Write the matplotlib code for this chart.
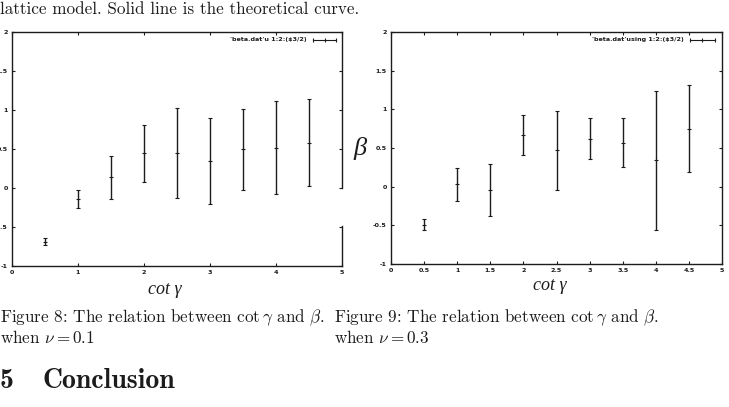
import numpy as np
import matplotlib
matplotlib.use('Agg')
import matplotlib.pyplot as plt

plt.rcParams['mathtext.fontset'] = 'cm'

# Figure 8 (nu = 0.1)
cot8 = [0.5, 1.0, 1.5, 2.0, 2.5, 3.0, 3.5, 4.0, 4.5]
beta8 = [-0.69, -0.14, 0.135, 0.445, 0.45, 0.345, 0.495, 0.515, 0.58]
err8 = [0.045, 0.12, 0.275, 0.365, 0.575, 0.555, 0.515, 0.595, 0.56]

# Figure 9 (nu = 0.3)
cot9 = [0.5, 1.0, 1.5, 2.0, 2.5, 3.0, 3.5, 4.0, 4.5]
beta9 = [-0.49, 0.03, -0.04, 0.67, 0.47, 0.62, 0.57, 0.34, 0.75]
err9 = [0.075, 0.21, 0.335, 0.26, 0.51, 0.265, 0.32, 0.895, 0.56]

yticks = [-1, -0.5, 0, 0.5, 1, 1.5, 2]
ytick_labels = ['-1', '-0.5', '0', '0.5', '1', '1.5', '2']
xticks8 = [0, 1, 2, 3, 4, 5]
xtick_labels8 = ['0', '1', '2', '3', '4', '5']
xticks9 = [0, 0.5, 1, 1.5, 2, 2.5, 3, 3.5, 4, 4.5, 5]
xtick_labels9 = ['0', '0.5', '1', '1.5', '2', '2.5', '3', '3.5', '4', '4.5', '5']

legend8 = "'beta.dat'u 1:2:($3/2)"
legend9 = "'beta.dat'using 1:2:($3/2)"

INK = '#1c1c1c'
W, H = 729, 407
CAP = 12.3


def draw_panel(ax, x, y, err, xticks, xlabels, legend, lx, sx):
    ax.errorbar(x, y, yerr=err, fmt='_', color=INK, ms=3, mew=0.8,
                elinewidth=1.0, capsize=1.6, capthick=1.0)
    ax.set_xlim(0, 5)
    ax.set_ylim(-1, 2)
    ax.set_xticks(xticks)
    ax.set_xticklabels(xlabels)
    ax.set_yticks(yticks)
    ax.set_yticklabels(ytick_labels)
    ax.tick_params(direction='in', length=2.5, width=0.8, top=True, right=True,
                   labelsize=4.6, colors=INK, pad=3)
    for lab in ax.get_xticklabels() + ax.get_yticklabels():
        lab.set_fontweight('bold')
    for sp in ax.spines.values():
        sp.set_linewidth(1.0)
        sp.set_color(INK)
    # gnuplot style key
    ax.text(lx, 0.966, legend, transform=ax.transAxes, ha='right', va='center',
            fontsize=4.6, fontweight='bold', color=INK, parse_math=False)
    ax.plot(sx, [0.966, 0.966], transform=ax.transAxes, color=INK, lw=0.8)
    ax.plot([sx[0], (sx[0] + sx[1]) / 2, sx[1]], [0.966] * 3, transform=ax.transAxes,
            ls='none', marker='|', ms=3, mew=0.8, color=INK)


fig = plt.figure(figsize=(W / 100, H / 100), dpi=100)

ax1 = fig.add_axes([12 / W, 141 / H, 330 / W, 234 / H])
draw_panel(ax1, cot8, beta8, err8, xticks8, xtick_labels8, legend8, 0.894, [0.912, 0.982])
# broken right border in the scan
ax1.spines['right'].set_visible(False)
ax1.plot([1, 1], [1, 0.335], transform=ax1.transAxes, color=INK, lw=1.0, clip_on=False)
ax1.plot([1, 1], [0.172, 0], transform=ax1.transAxes, color=INK, lw=1.0, clip_on=False)

ax2 = fig.add_axes([391 / W, 143 / H, 331 / W, 232 / H])
draw_panel(ax2, cot9, beta9, err9, xticks9, xtick_labels9, legend9, 0.885, [0.903, 0.979])

# handwritten annotations
fig.text(165 / W, 1 - 290 / H, 'cot γ', ha='center', va='center', fontsize=13,
         family='Liberation Serif', style='italic', color=INK)
fig.text(550 / W, 1 - 286 / H, 'cot γ', ha='center', va='center', fontsize=13,
         family='Liberation Serif', style='italic', color=INK)
fig.text(360 / W, 1 - 148 / H, 'β', ha='center', va='center', fontsize=19,
         family='Liberation Serif', style='italic', color=INK)

# page text
fig.text(0, 1 - 14 / H, 'lattice model. Solid line is the theoretical curve.',
         ha='left', va='baseline', fontsize=CAP, family='cmr10', color=INK)
fig.text(0, 1 - 322 / H, r'Figure 8: The relation between $\cot\gamma$ and $\beta$.',
         ha='left', va='baseline', fontsize=CAP, family='cmr10', color=INK)
fig.text(0, 1 - 343 / H, r'when $\nu = 0.1$',
         ha='left', va='baseline', fontsize=CAP, family='cmr10', color=INK)
fig.text(334 / W, 1 - 322 / H, r'Figure 9: The relation between $\cot\gamma$ and $\beta$.',
         ha='left', va='baseline', fontsize=CAP, family='cmr10', color=INK)
fig.text(334 / W, 1 - 343 / H, r'when $\nu = 0.3$',
         ha='left', va='baseline', fontsize=CAP, family='cmr10', color=INK)
fig.text(0, 1 - 388 / H, '5', ha='left', va='baseline', fontsize=20,
         family='cmb10', color=INK)
fig.text(43 / W, 1 - 388 / H, 'Conclusion', ha='left', va='baseline', fontsize=20,
         family='cmb10', color=INK)

fig.savefig('out.png', dpi=100)
